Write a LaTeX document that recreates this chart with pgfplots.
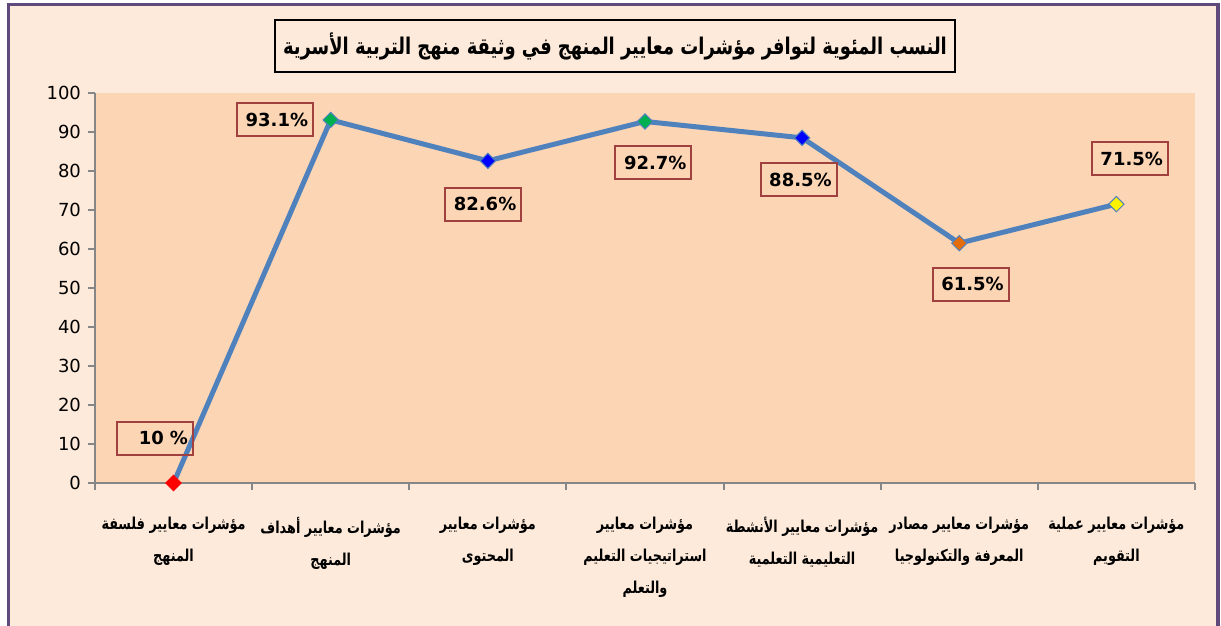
\documentclass[border=0pt]{standalone}
\usepackage{pgfplots}
\pgfplotsset{compat=1.18}
\usepackage{graphicx}
\usepackage{fontspec}
\setmainfont{DejaVu Sans}
\newfontfamily\arabicfont[Script=Arabic]{DejaVu Sans}
\TeXXeTstate=1
\definecolor{outerbg}{RGB}{253,234,218}
\definecolor{plotbg}{RGB}{252,213,181}
\definecolor{framepurple}{RGB}{96,74,123}
\definecolor{axisgray}{RGB}{134,134,134}
\definecolor{lineblue}{RGB}{79,129,189}
\definecolor{boxred}{RGB}{160,65,63}
\definecolor{mgreen}{RGB}{0,176,80}
\definecolor{morange}{RGB}{228,108,10}
\newcommand{\sx}[1]{\scalebox{0.78}[1]{#1}}
\begin{document}
\begin{tikzpicture}[
  lbl/.style={draw=boxred, line width=1pt, font=\fontsize{9}{10}\selectfont\bfseries, text width=33pt, align=right, inner xsep=2.5pt, minimum height=16.5pt, inner ysep=0pt}]
\fill[white] (-47.5pt,-71.5pt) rectangle (563pt,241.5pt);
\fill[outerbg] (-43pt,-75pt) rectangle (561.5pt,239pt);
\draw[framepurple, line width=1.6pt] (-43.25pt,-80pt) -- (-43.25pt,239.25pt) -- (561.5pt,239.25pt) -- (561.5pt,-80pt);
\node[draw=black, line width=1pt, fill=outerbg, minimum width=340pt, minimum height=26pt, inner sep=0pt]
  at (260pt,218.5pt) {\resizebox{332pt}{\height}{\fontsize{11.5}{13}\selectfont\bfseries{\arabicfont\beginR النسب المئوية لتوافر مؤشرات معايير المنهج في وثيقة منهج التربية الأسرية\endR}}};
\begin{axis}[
  at={(0pt,0pt)}, anchor=south west,
  scale only axis, width=550pt, height=195pt,
  xmin=-0.5, xmax=6.5, ymin=0, ymax=100,
  clip=false,
  axis lines*=left,
  axis line style={draw=axisgray, line width=1pt},
  axis background/.style={fill=plotbg},
  ytick={0,10,...,100},
  xtick={0,...,6},
  minor xtick={-0.5,0.5,...,6.5},
  tick align=outside,
  major tick length=3.5pt, minor tick length=3.5pt,
  major x tick style={draw=none},
  minor x tick style={draw=axisgray, line width=1pt},
  major y tick style={draw=axisgray, line width=1pt},
  /pgf/number format/assume math mode=true,
  yticklabel style={font=\fontsize{9}{10}\selectfont, text=black},
  xticklabel style={font=\fontsize{8.2}{16}\selectfont\bfseries, align=center, text=black, yshift=-10pt},
  xticklabels={
    {\sx{\arabicfont\beginR مؤشرات معايير فلسفة\endR}\\\sx{\arabicfont\beginR المنهج\endR}},
    {\sx{\arabicfont\beginR مؤشرات معايير أهداف\endR}\\\sx{\arabicfont\beginR المنهج\endR}},
    {\sx{\arabicfont\beginR مؤشرات معايير\endR}\\\sx{\arabicfont\beginR المحتوى\endR}},
    {\sx{\arabicfont\beginR مؤشرات معايير\endR}\\\sx{\arabicfont\beginR استراتيجيات التعليم\endR}\\\sx{\arabicfont\beginR والتعلم\endR}},
    {\sx{\arabicfont\beginR مؤشرات معايير الأنشطة\endR}\\\sx{\arabicfont\beginR التعليمية التعلمية\endR}},
    {\sx{\arabicfont\beginR مؤشرات معايير مصادر\endR}\\\sx{\arabicfont\beginR المعرفة والتكنولوجيا\endR}},
    {\sx{\arabicfont\beginR مؤشرات معايير عملية\endR}\\\sx{\arabicfont\beginR التقويم\endR}}
  },
]
\addplot[color=lineblue, line width=2.5pt, no marks] coordinates {
  (0,0) (1,93.1) (2,82.6) (3,92.7) (4,88.5) (5,61.5) (6,71.5)
};
\addplot[scatter, only marks, scatter src=explicit symbolic,
  every mark/.append style={rotate=45},
  scatter/classes={
    r={mark=square*, draw=red, fill=red},
    g={mark=square*, draw=lineblue, fill=mgreen},
    b={mark=square*, draw=lineblue, fill=blue},
    o={mark=square*, draw=lineblue, fill=morange},
    y={mark=square*, draw=lineblue, fill=yellow}},
  mark size=2.7pt, line width=0.5pt]
coordinates {
  (0,0) [r] (1,93.1) [g] (2,82.6) [b] (3,92.7) [g] (4,88.5) [b] (5,61.5) [o] (6,71.5) [y]
};
\node[lbl] at (axis cs:-0.118,11.5) {10 \%};
\node[lbl] at (axis cs:0.646,93.1) {93.1\%};
\node[lbl] at (axis cs:1.971,71.5) {82.6\%};
\node[lbl] at (axis cs:3.054,82.1) {92.7\%};
\node[lbl] at (axis cs:3.978,77.7) {88.5\%};
\node[lbl] at (axis cs:5.073,51.0) {61.5\%};
\node[lbl] at (axis cs:6.086,83.1) {71.5\%};
\end{axis}
\pgfresetboundingbox
\useasboundingbox (-47.5pt,-71.5pt) rectangle (563pt,241.5pt);
\end{tikzpicture}
\end{document}
